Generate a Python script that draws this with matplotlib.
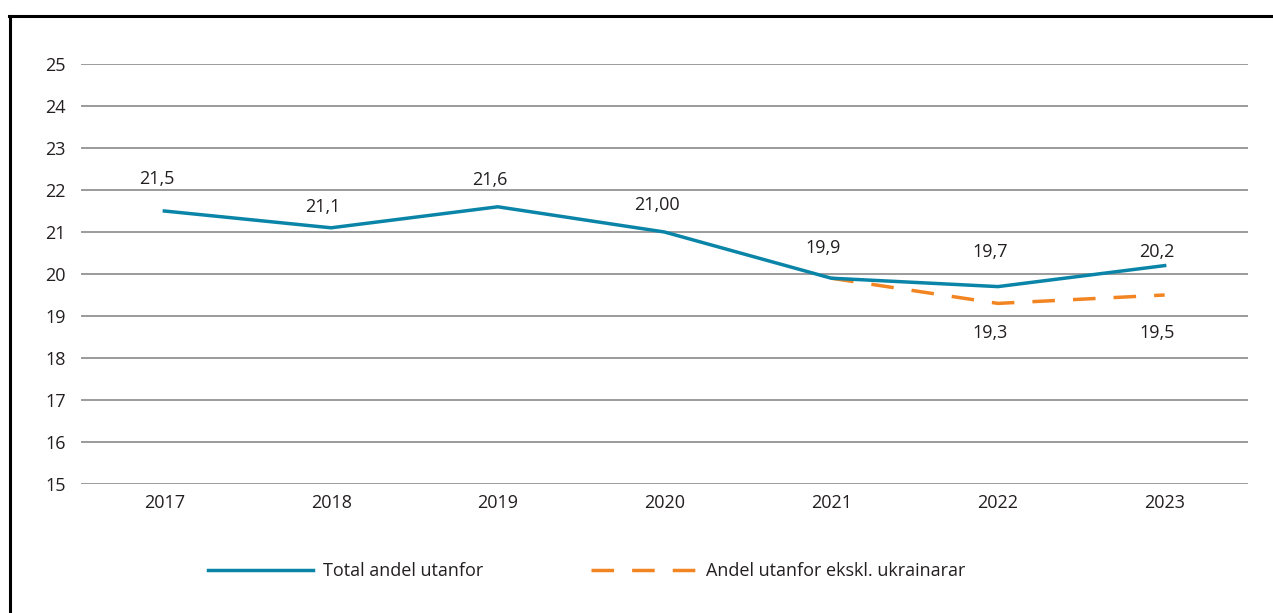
import matplotlib
matplotlib.use("Agg")
import matplotlib.pyplot as plt
from matplotlib.lines import Line2D

years = ["2017", "2018", "2019", "2020", "2021", "2022", "2023"]
total = [21.5, 21.1, 21.6, 21.0, 19.9, 19.7, 20.2]
total_labels = ["21,5", "21,1", "21,6", "21,00", "19,9", "19,7", "20,2"]
excl_years = ["2021", "2022", "2023"]
excl = [19.9, 19.3, 19.5]
excl_labels = ["", "19,3", "19,5"]
yticks = list(range(15, 26))

# label placement offsets (pixels), styling only
total_dy_px = [32, 21, 27, 27, 30, 35, 14]
excl_dy_px = [0, -30, -38]
label_dx_px = -8

plt.rcParams['font.family'] = ['Open Sans', 'DejaVu Sans']
teal = "#0A85A8"
orange = "#F28522"
txt = "#231F20"
FS = 13
LW = 2.5
DASH = (6.5, 5.2)

fig = plt.figure(figsize=(12.73, 6.13), dpi=100)
ax = fig.add_axes([81/1273, 1-484/613, (1248-81)/1273, (484-64)/613])

xi = {y: i for i, y in enumerate(years)}
x_tot = [xi[y] for y in years]
x_ex = [xi[y] for y in excl_years]

ax.plot(x_ex, excl, color=orange, lw=LW, dashes=DASH, zorder=3)
ax.plot(x_tot, total, color=teal, lw=LW, zorder=4)

px2pt = 72 / 100
for x, v, t, dy in zip(x_tot, total, total_labels, total_dy_px):
    ax.annotate(t, (x, v), xytext=(label_dx_px * px2pt, dy * px2pt), textcoords="offset points",
                ha="center", va="center", fontsize=FS, color=txt)
for x, v, t, dy in zip(x_ex, excl, excl_labels, excl_dy_px):
    if t:
        ax.annotate(t, (x, v), xytext=(label_dx_px * px2pt, dy * px2pt), textcoords="offset points",
                    ha="center", va="center", fontsize=FS, color=txt)

ax.set_xlim(-0.5, len(years) - 0.5)
ax.set_ylim(15, 25)
ax.set_yticks(yticks)
ax.set_yticklabels([str(v) for v in yticks])
ax.set_xticks(range(len(years)))
ax.set_xticklabels(years)
ax.tick_params(axis="both", length=0, labelsize=FS, labelcolor=txt)
ax.tick_params(axis="y", pad=11)
ax.tick_params(axis="x", pad=7)
ax.grid(axis="y", color="#8a8a8a", lw=1.2)
ax.set_axisbelow(True)
for s in ax.spines.values():
    s.set_visible(False)

# frame lines
fig.add_artist(Line2D([9.5/1273, 9.5/1273], [0, 1-15.5/613], color="black", lw=2.2, transform=fig.transFigure))
fig.add_artist(Line2D([8.5/1273, 1], [1-15.5/613, 1-15.5/613], color="black", lw=2.2, transform=fig.transFigure))

handles = [Line2D([], [], color=teal, lw=LW),
           Line2D([], [], color=orange, lw=LW, dashes=DASH)]
fig.legend(handles, ["Total andel utanfor", "Andel utanfor ekskl. ukrainarar"],
           loc="center left", bbox_to_anchor=(192/1273, 1-571/613), ncol=2,
           frameon=False, fontsize=FS, handlelength=5.8, handletextpad=0.55,
           columnspacing=6.0, labelcolor=txt, borderpad=0.4)

fig.savefig("out.png", dpi=100)
